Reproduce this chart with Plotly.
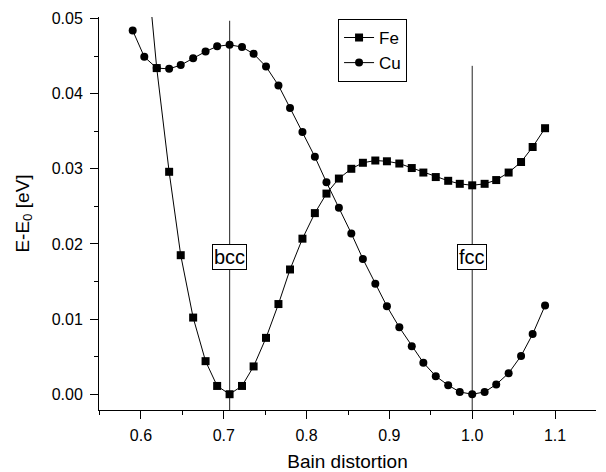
import plotly.graph_objects as go

# Bain distortion (c/a-like parameter)
x_vals = [0.590, 0.604, 0.619, 0.634, 0.648, 0.663, 0.678, 0.692, 0.707, 0.722,
          0.736, 0.751, 0.766, 0.780, 0.795, 0.810, 0.824, 0.839, 0.854, 0.868,
          0.883, 0.897, 0.912, 0.927, 0.941, 0.956, 0.971, 0.985, 1.000, 1.015,
          1.029, 1.044, 1.059, 1.073, 1.088]

fe_vals = [0.083, 0.061, 0.0434, 0.0296, 0.0185, 0.0102, 0.0044, 0.0011, 0.0000, 0.0011,
           0.0037, 0.0075, 0.0120, 0.0166, 0.0207, 0.0241, 0.0267, 0.0287, 0.0300, 0.0308,
           0.0311, 0.0310, 0.0307, 0.0301, 0.0295, 0.0289, 0.0284, 0.0280, 0.0278, 0.0280,
           0.0285, 0.0295, 0.0309, 0.0329, 0.0354]

cu_vals = [0.0484, 0.0449, 0.0434, 0.0433, 0.0438, 0.0447, 0.0456, 0.0463, 0.0465, 0.0462,
           0.0453, 0.0436, 0.0411, 0.0381, 0.0349, 0.0316, 0.0282, 0.0248, 0.0214, 0.0180,
           0.0147, 0.0117, 0.0089, 0.0064, 0.0042, 0.0024, 0.0012, 0.0003, 0.0000, 0.0003,
           0.0013, 0.0028, 0.0051, 0.0080, 0.0118]

phase_names = ["bcc", "fcc"]
phase_x = [0.7071, 1.0]
phase_top = [0.0497, 0.0437]
phase_label_y = [0.0183, 0.0183]

x_range = [0.5493, 1.1495]
y_range = [-0.0021, 0.0502]

FONT = "Liberation Sans, Arial, sans-serif"

fig = go.Figure()

for px, pt in zip(phase_x, phase_top):
    fig.add_trace(go.Scatter(x=[px, px], y=[y_range[0], pt], mode="lines",
                             line=dict(color="#222222", width=1),
                             showlegend=False, hoverinfo="skip"))

fig.add_trace(go.Scatter(x=x_vals, y=cu_vals, mode="lines+markers", name="Cu",
                         line=dict(color="black", width=1),
                         marker=dict(symbol="circle", size=8, color="black")))
fig.add_trace(go.Scatter(x=x_vals, y=fe_vals, mode="lines+markers", name="Fe",
                         line=dict(color="black", width=1),
                         marker=dict(symbol="square", size=8, color="black")))

for name, px, py in zip(phase_names, phase_x, phase_label_y):
    fig.add_annotation(x=px, y=py, text=name, showarrow=False,
                       font=dict(family=FONT, size=20, color="black"),
                       bgcolor="white", bordercolor="black", borderwidth=1, borderpad=1)

fig.update_layout(
    width=606, height=472,
    margin=dict(l=99, r=10, t=17, b=62, autoexpand=False),
    paper_bgcolor="white", plot_bgcolor="white",
    font=dict(family=FONT, size=16, color="black"),
    legend=dict(x=0.481, y=0.995, xanchor="left", yanchor="top",
                traceorder="reversed",
                bordercolor="black", borderwidth=1, bgcolor="white",
                font=dict(family=FONT, size=17, color="black"),
                itemwidth=30, tracegroupgap=0),
    xaxis=dict(range=x_range, showgrid=False, zeroline=False, automargin=False,
               showline=True, linecolor="black", linewidth=1,
               ticks="outside", ticklen=8, tickcolor="black",
               tickmode="array", tickvals=[0.6, 0.7, 0.8, 0.9, 1.0, 1.1],
               ticktext=["0.6", "0.7", "0.8", "0.9", "1.0", "1.1"],
               minor=dict(ticks="outside", ticklen=4, tickcolor="black",
                          tickvals=[0.55, 0.65, 0.75, 0.85, 0.95, 1.05, 1.15]),
               tickfont=dict(size=16), ticklabelstandoff=3,
               title=dict(text="Bain distortion", font=dict(size=19), standoff=13)),
    yaxis=dict(range=y_range, showgrid=False, zeroline=False, automargin=False,
               showline=True, linecolor="black", linewidth=1,
               ticks="outside", ticklen=8, tickcolor="black",
               tickmode="array", tickvals=[0.0, 0.01, 0.02, 0.03, 0.04, 0.05],
               ticktext=["0.00", "0.01", "0.02", "0.03", "0.04", "0.05"],
               minor=dict(ticks="outside", ticklen=4, tickcolor="black",
                          tickvals=[0.005, 0.015, 0.025, 0.035, 0.045]),
               tickfont=dict(size=16), ticklabelstandoff=4,
               title=dict(text="E-E<sub>0</sub> [eV]", font=dict(size=19), standoff=17)),
)

fig.write_html("out.html")
